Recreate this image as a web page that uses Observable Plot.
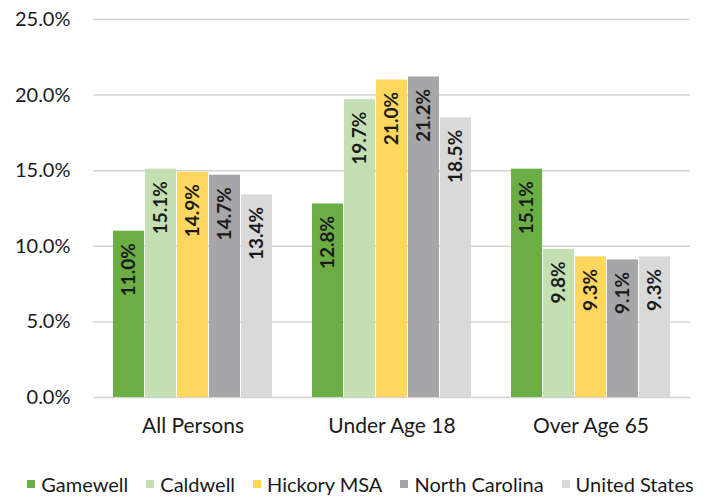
<!DOCTYPE html>
<html>
<head>
<meta charset="utf-8">
<script src="https://cdn.jsdelivr.net/npm/d3@7"></script>
<script src="https://cdn.jsdelivr.net/npm/@observablehq/plot@0.6"></script>
<style>
  html, body { margin: 0; padding: 0; background: #fff; }
  body { width: 719px; height: 497px; overflow: hidden; font-family: Lato, sans-serif; }
  #chart svg { display: block; }
  #legend { display: flex; justify-content: center; align-items: center; gap: 18px;
            font-size: 20px; line-height: 20px; color: #1a1a1a; height: 20px;
            margin-top: 14px; margin-left: 2px; }
  #legend .item { display: flex; align-items: center; gap: 6px; white-space: nowrap; }
  #legend .sw { width: 8px; height: 8px; display: inline-block; }
</style>
</head>
<body>
<div id="chart"></div>
<div id="legend"></div>
<script>
// Poverty rate by age group and geography
const groups = ["All Persons", "Under Age 18", "Over Age 65"];
const areas = ["Gamewell", "Caldwell", "Hickory MSA", "North Carolina", "United States"];
const colors = ["#6aae45", "#c4e0b2", "#ffd65e", "#a6a6a8", "#d9d9d9"];

const gamewell      = [0.110, 0.128, 0.151];
const caldwell      = [0.151, 0.197, 0.098];
const hickoryMsa    = [0.149, 0.210, 0.093];
const northCarolina = [0.147, 0.212, 0.091];
const unitedStates  = [0.134, 0.185, 0.093];

const yTicks = [0, 0.05, 0.10, 0.15, 0.20, 0.25];

const seriesValues = [gamewell, caldwell, hickoryMsa, northCarolina, unitedStates];
const rows = [];
groups.forEach((g, gi) => {
  areas.forEach((a, ai) => {
    rows.push({group: g, area: a, value: seriesValues[ai][gi]});
  });
});

const pct = d3.format(".1%");

const chart = Plot.plot({
  width: 719,
  height: 460,
  marginLeft: 93,
  marginRight: 29,
  marginTop: 19,
  marginBottom: 63,
  style: {fontFamily: "Lato, sans-serif", fontSize: "20px", color: "#1a1a1a", background: "#fff"},
  fx: {domain: groups, padding: 0, label: null},
  x: {domain: areas, paddingInner: 0.04, paddingOuter: 0.6, axis: null},
  y: {domain: [0, 0.25], ticks: yTicks, tickFormat: pct, label: null},
  color: {domain: areas, range: colors},
  marks: [
    Plot.gridY(yTicks, {stroke: "#d4d4d4", strokeOpacity: 1, strokeWidth: 1.5}),
    Plot.axisY({ticks: yTicks, tickFormat: pct, tickSize: 0, tickPadding: 23, fontSize: 20}),
    Plot.axisFx({anchor: "bottom", tickSize: 0, tickPadding: 21, fontSize: 21, label: null}),
    Plot.barY(rows, {fx: "group", x: "area", y: "value", fill: "area"}),
    // value labels run upward from just below each bar's top
    Plot.text(rows, {
      fx: "group", x: "area", y: "value",
      text: d => pct(d.value),
      rotate: -90, textAnchor: "end", lineAnchor: "middle", dy: 12,
      fontWeight: "bold", fontSize: 19, fill: "#1a1a1a"
    })
  ]
});
document.getElementById("chart").appendChild(chart);

const legend = document.getElementById("legend");
areas.forEach((a, i) => {
  const item = document.createElement("span");
  item.className = "item";
  const sw = document.createElement("span");
  sw.className = "sw";
  sw.style.background = colors[i];
  const label = document.createElement("span");
  label.textContent = a;
  item.appendChild(sw);
  item.appendChild(label);
  legend.appendChild(item);
});
</script>
</body>
</html>
